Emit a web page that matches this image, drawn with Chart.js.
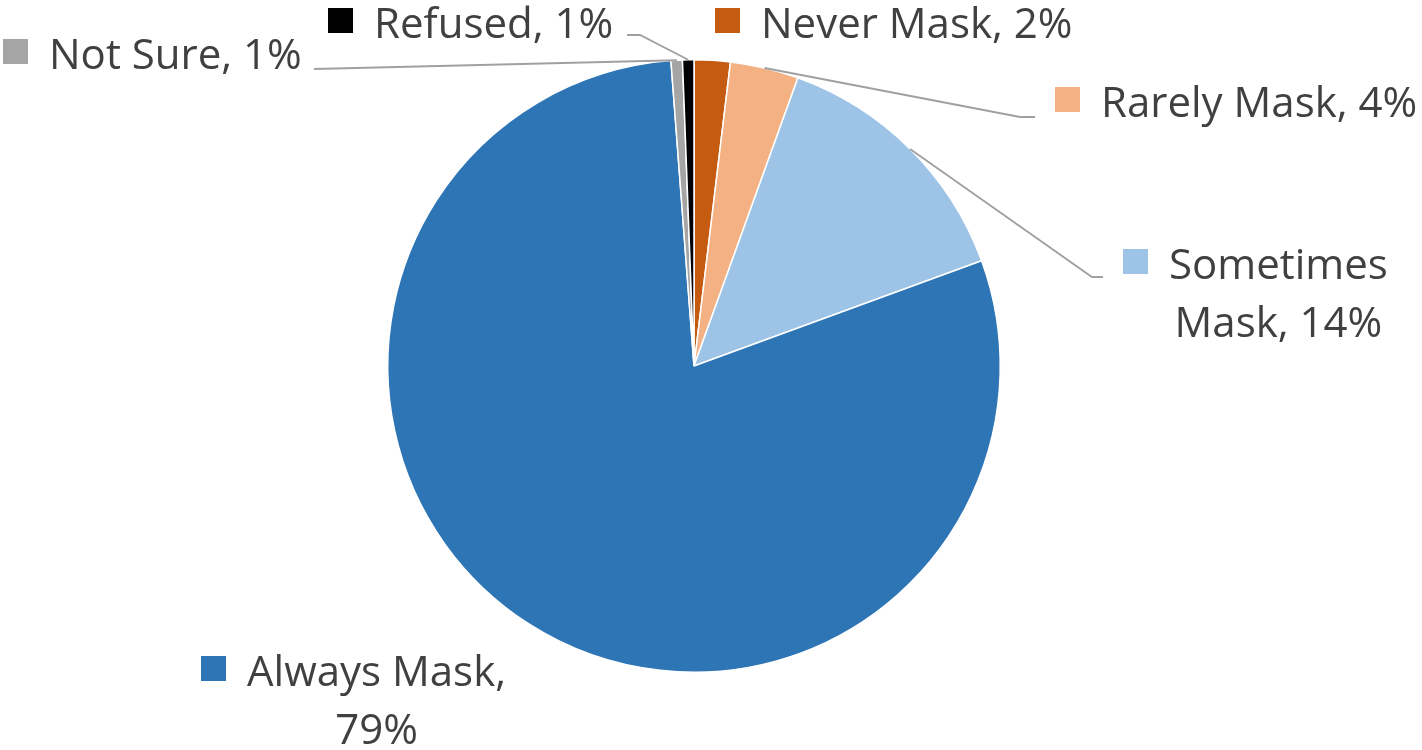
<!DOCTYPE html>
<html>
<head>
<meta charset="utf-8">
<title>Mask use</title>
<script src="https://cdn.jsdelivr.net/npm/chart.js@4/dist/chart.umd.min.js"></script>
<style>
  html, body { margin: 0; padding: 0; background: #fff; }
  #wrap { width: 1422px; height: 750px; }
</style>
</head>
<body>
<div id="wrap"><canvas id="masks"></canvas></div>
<script>
// survey shares, clockwise from 12 o'clock
const categories = ["Never Mask", "Rarely Mask", "Sometimes Mask", "Always Mask", "Not Sure", "Refused"];
const shares = [1.9, 3.6, 13.9, 79.3, 0.6, 0.6];
const sliceColors = ["#C55A11", "#F4B183", "#9DC3E6", "#2E75B6", "#A5A5A5", "#000000"];

// where each callout sits: marker square left/top, text lines, leader line elbow points
const callouts = [
  { sq: [715, 8],    text: ["Never Mask, 2%"],         leader: null },
  { sq: [1055, 87],  text: ["Rarely Mask, 4%"],        leader: [[1020, 117], [1035, 117]] },
  { sq: [1123, 249], text: ["Sometimes", "Mask, 14%"], leader: [[1092, 277], [1103, 277]] },
  { sq: [201, 656],  text: ["Always Mask,", "79%"],      leader: null },
  { sq: [3, 39],     text: ["Not Sure, 1%"],           leader: [[314, 69]] },
  { sq: [328, 8],    text: ["Refused, 1%"],            leader: [[640, 35], [627, 35]] }
];

const FONT = '42px "Open Sans"';
const LINE_H = 58;

const calloutPlugin = {
  id: 'callouts',
  afterDraw(chart) {
    const ctx = chart.ctx;
    const arcs = chart.getDatasetMeta(0).data;
    const total = shares.reduce((a, b) => a + b, 0);
    ctx.save();

    arcs.forEach((arc, i) => {
      const c = callouts[i];
      const p = arc.getProps(['x', 'y', 'startAngle', 'endAngle', 'outerRadius'], true);
      const mid = (p.startAngle + p.endAngle) / 2;

      // leader line from the slice edge
      if (c.leader) {
        ctx.beginPath();
        ctx.moveTo(p.x + Math.cos(mid) * p.outerRadius, p.y + Math.sin(mid) * p.outerRadius);
        c.leader.forEach(pt => ctx.lineTo(pt[0], pt[1]));
        ctx.strokeStyle = '#A0A0A0';
        ctx.lineWidth = 1.8;
        ctx.stroke();
      }

      // marker
      ctx.fillStyle = sliceColors[i];
      ctx.fillRect(c.sq[0], c.sq[1], 25, 25);

      // text, lines centred on each other
      ctx.font = FONT;
      ctx.fillStyle = '#404040';
      ctx.textBaseline = 'alphabetic';
      ctx.textAlign = 'center';
      const pct = Math.round(shares[i] / total * 100);
      const lines = c.text.slice();
      lines[lines.length - 1] = lines[lines.length - 1].replace(/\d+%/, pct + '%');
      const w = Math.max(...lines.map(t => ctx.measureText(t).width));
      const cx = c.sq[0] + 25 + 21 + w / 2;
      lines.forEach((t, k) => {
        ctx.fillText(t, cx, c.sq[1] + 30 + k * LINE_H);
      });
    });
    ctx.restore();
  }
};

function draw() {
  new Chart("masks", {
    type: "pie",
    data: {
      labels: categories,
      datasets: [{
        data: shares,
        backgroundColor: sliceColors,
        borderColor: "#ffffff",
        borderWidth: 1.5
      }]
    },
    options: {
      responsive: true,
      maintainAspectRatio: false,
      animation: false,
      layout: { padding: { top: 59, bottom: 77, left: 387, right: 421 } },
      plugins: {
        legend: { display: false },
        tooltip: { enabled: false }
      }
    },
    plugins: [calloutPlugin]
  });
}

if (document.fonts && document.fonts.load) {
  document.fonts.load(FONT).then(draw, draw);
} else {
  draw();
}
</script>
</body>
</html>
